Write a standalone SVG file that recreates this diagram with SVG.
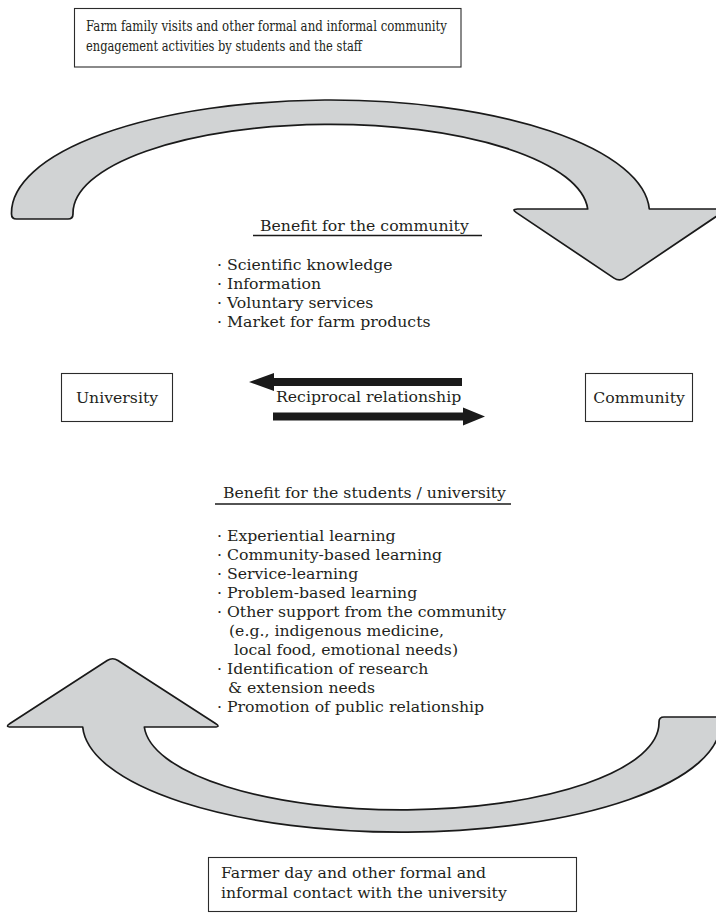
<svg xmlns="http://www.w3.org/2000/svg" width="716" height="913" viewBox="0 0 716 913">
  <style>
    .box { fill: #ffffff; stroke: #2b2b2b; stroke-width: 1.1; }
    .bend { fill: #d1d3d4; stroke: #1a1a1a; stroke-width: 1.7; stroke-linejoin: round; }
    .rel { fill: #1a1a1a; stroke: none; }
    .rule { stroke: #1a1a1a; stroke-width: 1.3; }
    .t { font-family: "DejaVu Serif", "Liberation Serif", serif; font-size: 15.7px; fill: #231f20; }
    .tc { font-family: "DejaVu Serif", "Liberation Serif", serif; font-size: 14.5px; fill: #231f20; }
    .mid { text-anchor: middle; }
  </style>
  <rect width="716" height="913" fill="#ffffff"/>

  <g id="connectors">
    <path id="arrow-top" class="bend" d="M 11.5,213 A 319 113 0 0 1 649.3,209 L 721,209 Q 727.4,209 722,212.6 L 624.8,278.1 Q 619.4,281.7 614,278.1 L 516.4,212.6 Q 511,209 517.5,209 L 587.7,209 A 257.5 89 0 0 0 73,213 L 73,214 Q 73,219 68,219 L 16.5,219 Q 11.5,219 11.5,214 Z"/>
    <path id="arrow-bottom" class="bend" d="M 720.5,723 A 319 109 0 0 1 82.7,727 L 11,727 Q 4.6,727 10,723.5 L 107.2,660.5 Q 112.6,657 118,660.5 L 215.5,723.5 Q 221,727 214.5,727 L 144.3,727 A 257.5 87 0 0 0 659,723 L 659,722 Q 659,717 664,717 L 715.5,717 Q 720.5,717 720.5,722 Z"/>
    <path id="arrow-to-university" class="rel" d="M 249,382 L 274,373 L 274,378 L 462,378 L 462,386 L 274,386 L 274,391 Z"/>
    <path id="arrow-to-community" class="rel" d="M 485,416.5 L 463,407.5 L 463,412.5 L 273,412.5 L 273,420.5 L 463,420.5 L 463,425.5 Z"/>
    <text class="t" x="276" y="402">Reciprocal relationship</text>
  </g>

  <g id="top-activities">
    <rect class="box" x="74.5" y="8.5" width="386.5" height="58.5"/>
    <text class="tc" x="86" y="30.5" textLength="361" lengthAdjust="spacingAndGlyphs">Farm family visits and other formal and informal community</text>
    <text class="tc" x="86" y="50.5" textLength="276" lengthAdjust="spacingAndGlyphs">engagement activities by students and the staff</text>
  </g>

  <g id="benefit-community">
    <text class="t" x="260" y="231">Benefit for the community</text>
    <line class="rule" x1="253" y1="235.5" x2="482" y2="235.5"/>
    <text class="t" x="217" y="270">· Scientific knowledge</text>
    <text class="t" x="217" y="289">· Information</text>
    <text class="t" x="217" y="308">· Voluntary services</text>
    <text class="t" x="217" y="327">· Market for farm products</text>
  </g>

  <g id="university">
    <rect class="box" x="61.5" y="373.5" width="111" height="48"/>
    <text class="t mid" x="117" y="402.5">University</text>
  </g>

  <g id="community">
    <rect class="box" x="585.5" y="373.5" width="107" height="48"/>
    <text class="t mid" x="639" y="402.5">Community</text>
  </g>

  <g id="benefit-students">
    <text class="t" x="223" y="498">Benefit for the students / university</text>
    <line class="rule" x1="215" y1="504" x2="511" y2="504"/>
    <text class="t" x="217" y="540.5">· Experiential learning</text>
    <text class="t" x="217" y="559.6">· Community-based learning</text>
    <text class="t" x="217" y="578.7">· Service-learning</text>
    <text class="t" x="217" y="597.8">· Problem-based learning</text>
    <text class="t" x="217" y="616.9">· Other support from the community</text>
    <text class="t" x="229" y="636">(e.g., indigenous medicine,</text>
    <text class="t" x="234" y="655.1">local food, emotional needs)</text>
    <text class="t" x="217" y="674.2">· Identification of research</text>
    <text class="t" x="228" y="693.3">&amp; extension needs</text>
    <text class="t" x="217" y="712.4">· Promotion of public relationship</text>
  </g>

  <g id="bottom-contact">
    <rect class="box" x="208.5" y="857.5" width="368" height="54"/>
    <text class="t" x="221" y="878">Farmer day and other formal and</text>
    <text class="t" x="221" y="898">informal contact with the university</text>
  </g>
</svg>
